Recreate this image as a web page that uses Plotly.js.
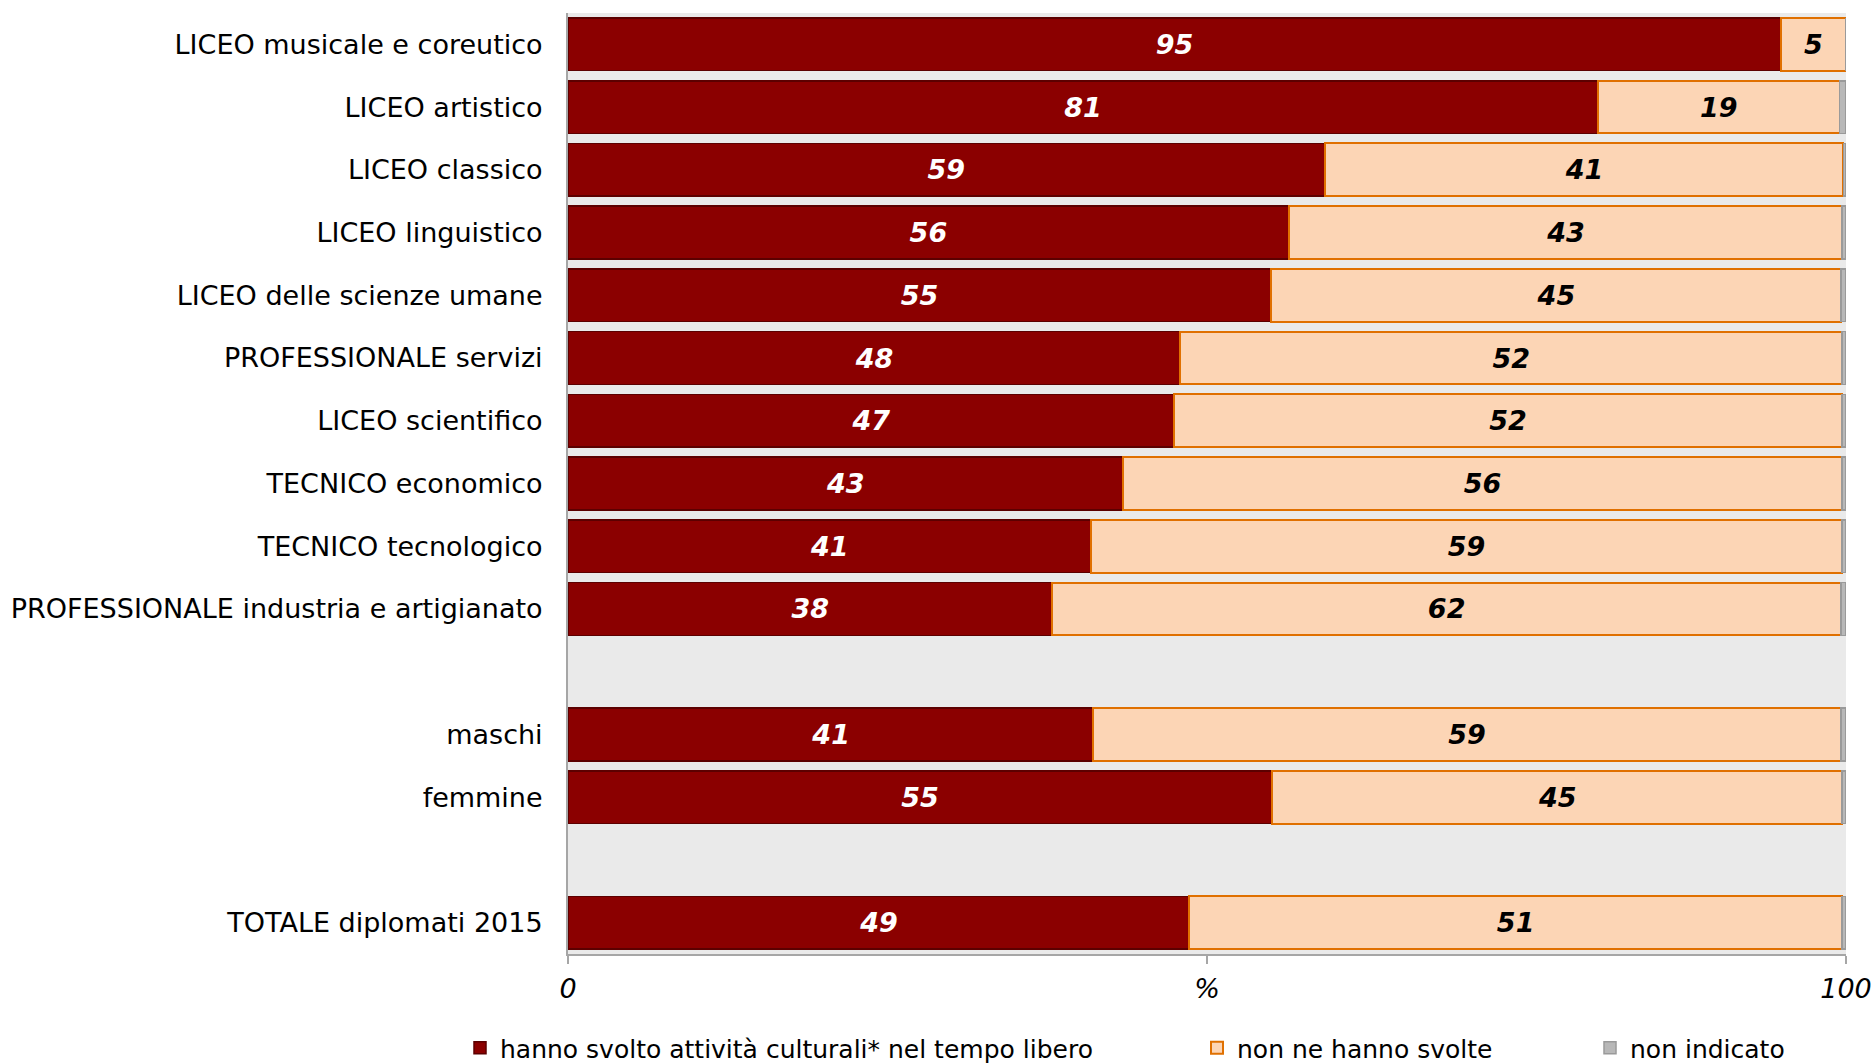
<!DOCTYPE html>
<html>
<head>
<meta charset="utf-8">
<script src="https://cdn.plot.ly/plotly-3.0.1.min.js"></script>
<style>html,body{margin:0;padding:0;background:#fff;}#chart{width:1876px;height:1063px;}</style>
</head>
<body>
<div id="chart"></div>
<script>
// Categories top to bottom (blank entries are spacer rows)
const categories = [
  "LICEO musicale e coreutico",
  "LICEO artistico",
  "LICEO classico",
  "LICEO linguistico",
  "LICEO delle scienze umane",
  "PROFESSIONALE servizi",
  "LICEO scientifico",
  "TECNICO economico",
  "TECNICO tecnologico",
  "PROFESSIONALE industria e artigianato",
  "maschi",
  "femmine",
  "TOTALE diplomati 2015"
];
const categoryOrder = [
  "LICEO musicale e coreutico",
  "LICEO artistico",
  "LICEO classico",
  "LICEO linguistico",
  "LICEO delle scienze umane",
  "PROFESSIONALE servizi",
  "LICEO scientifico",
  "TECNICO economico",
  "TECNICO tecnologico",
  "PROFESSIONALE industria e artigianato",
  " ",
  "maschi",
  "femmine",
  "  ",
  "TOTALE diplomati 2015"
];
const svolto      = [94.9, 80.6, 59.2, 56.4, 55.0, 47.9, 47.4, 43.4, 40.9, 37.9, 41.1, 55.1, 48.6];
const nonSvolto   = [ 5.1, 18.9, 40.6, 43.3, 44.6, 51.8, 52.3, 56.3, 58.8, 61.7, 58.5, 44.6, 51.1];
const nonIndicato = [ 0.0,  0.5,  0.2,  0.3,  0.4,  0.3,  0.3,  0.3,  0.3,  0.4,  0.4,  0.3,  0.3];
const seriesNames = ["hanno svolto attività culturali* nel tempo libero", "non ne hanno svolte", "non indicato"];
const xTickVals = [0, 50, 100];
const xTickText = ["0", "%", "100"];

const FONT = "DejaVu Sans, Verdana, sans-serif";

const traces = [
  {
    type: "bar", orientation: "h", name: seriesNames[0], legend: "legend",
    y: categories, x: svolto,
    marker: {color: "#8B0000", line: {color: "#5C0000", width: 1.5}},
    text: svolto, texttemplate: "%{x:.0f}", textposition: "inside", insidetextanchor: "middle",
    textfont: {family: FONT, size: 27, color: "#ffffff", weight: "bold", style: "italic"},
    hoverinfo: "skip"
  },
  {
    type: "bar", orientation: "h", name: seriesNames[1], legend: "legend2",
    y: categories, x: nonSvolto,
    marker: {color: "#FCD5B5", line: {color: "#E07000", width: 2}},
    text: nonSvolto, texttemplate: "%{x:.0f}", textposition: "inside", insidetextanchor: "middle",
    textfont: {family: FONT, size: 27, color: "#000000", weight: "bold", style: "italic"},
    hoverinfo: "skip"
  },
  {
    type: "bar", orientation: "h", name: seriesNames[2], legend: "legend3",
    y: categories, x: nonIndicato,
    marker: {color: "#B8B8B8", line: {color: "#9A9A9A", width: 1.5}},
    textposition: "none",
    hoverinfo: "skip"
  }
];

const legendFont = {family: FONT, size: 25, color: "#000"};
const legendY = (1063 - 1048) / 1063;
function legendAt(px) {
  return {x: (px - 568) / 1278, xanchor: "left", y: legendY, yref: "container", yanchor: "middle",
          orientation: "h", font: legendFont, bgcolor: "rgba(0,0,0,0)"};
}
const layout = {
  width: 1876, height: 1063,
  margin: {l: 568, r: 30, t: 13, b: 109, pad: 0},
  paper_bgcolor: "#ffffff",
  plot_bgcolor: "#EAEAEA",
  barmode: "stack",
  bargap: 0.16,
  showlegend: true,
  font: {family: FONT, size: 27, color: "#000"},
  xaxis: {
    range: [0, 100],
    tickvals: xTickVals, ticktext: xTickText,
    tickfont: {family: FONT, size: 27, color: "#000", style: "italic"},
    showgrid: false, zeroline: false,
    showline: true, linecolor: "#A6A6A6", linewidth: 2,
    ticks: "outside", ticklen: 8, tickcolor: "#A6A6A6", tickwidth: 1.5,
    ticklabelstandoff: 2,
    fixedrange: true
  },
  yaxis: {
    type: "category",
    categoryorder: "array", categoryarray: categoryOrder,
    autorange: "reversed",
    tickfont: {family: FONT, size: 27, color: "#000"},
    showgrid: false, zeroline: false,
    showline: true, linecolor: "#A6A6A6", linewidth: 2,
    ticks: "outside", ticklen: 18, tickcolor: "rgba(0,0,0,0)",
    fixedrange: true
  },
  legend: legendAt(460),
  legend2: legendAt(1197),
  legend3: legendAt(1590)
};

Plotly.newPlot("chart", traces, layout, {displayModeBar: false, staticPlot: true});
</script>
</body>
</html>
